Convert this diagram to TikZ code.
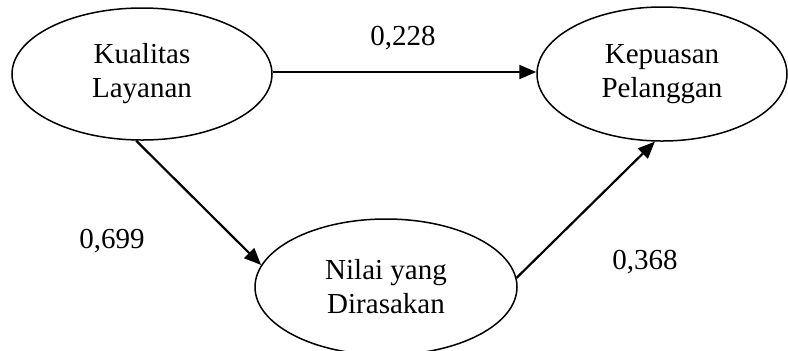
\documentclass[tikz,border=0pt]{standalone}
\usepackage{fontspec}
\setmainfont{Liberation Serif}
\usetikzlibrary{shapes.geometric,arrows.meta}
\begin{document}
\begin{tikzpicture}[x=0.5pt,y=-0.5pt,
  construct/.style={draw,ellipse,line width=0.75pt,inner sep=0pt,align=center,
    font=\fontsize{14.5}{17}\selectfont},
  path/.style={line width=1.1pt,-{Triangle[length=8.5pt,width=7pt]}},
  coef/.style={font=\fontsize{14.5}{17}\selectfont}]
  \useasboundingbox (0,0) rectangle (788,350);
  \node[construct,minimum width=130pt,minimum height=66pt] (kl) at (142,74) {Kualitas\\Layanan};
  \node[construct,minimum width=125pt,minimum height=67pt] (kp) at (662,74) {Kepuasan\\Pelanggan};
  \node[construct,minimum width=131pt,minimum height=68pt] (nd) at (386,287) {Nilai yang\\Dirasakan};
  \draw[path] (kl.east |- 0,72) -- (kp.west |- 0,72);
  \draw[path] (kl.-95.8) -- (nd.170.4);
  \draw[path] (nd.4.4) -- (kp.-96.6);
  \node[coef] (c1) at (403,38) {0,228};
  \node[coef] (c2) at (112,241) {0,699};
  \node[coef] (c3) at (645,262) {0,368};
\end{tikzpicture}
\end{document}
